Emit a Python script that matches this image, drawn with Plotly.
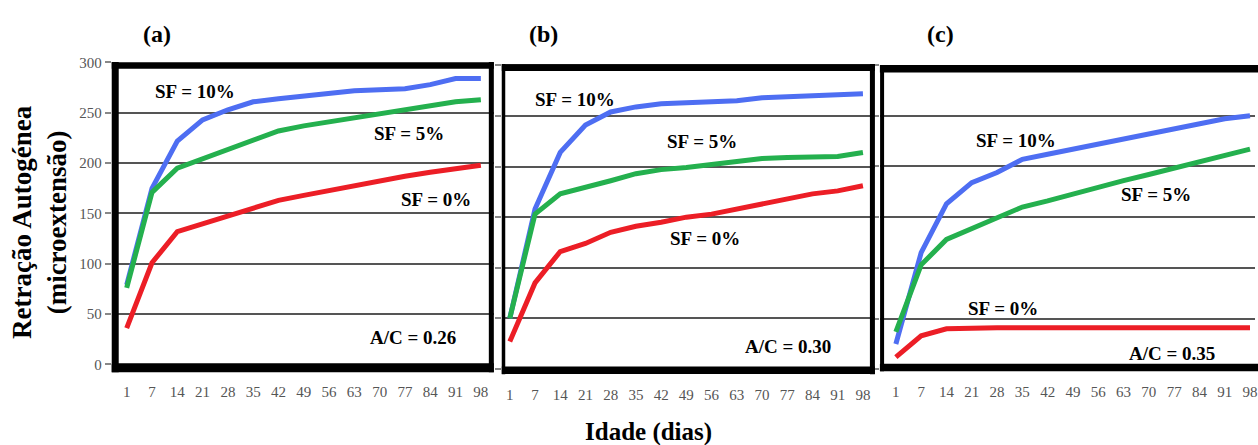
import plotly.graph_objects as go

# ---------------- data ----------------
days = [1, 7, 14, 21, 28, 35, 42, 49, 56, 63, 70, 77, 84, 91, 98]
day_labels = [str(d) for d in days]
y_ticks = [0, 50, 100, 150, 200, 250, 300]

a_sf10 = [79, 175, 222, 243, 253, 261, 264, 267, 269, 272, 273, 274, 278, 284, 284]
a_sf5 = [76, 171, 195, 204, 214, 223, 232, 237, 241, 245, 250, 253, 257, 261, 263]
a_sf0 = [36, 101, 132, 140, 148, 155, 163, 168, 173, 178, 183, 187, 191, 195, 198]

b_sf10 = [50, 158, 214, 241, 254, 259, 262, 263, 264, 265, 268, 269, 270, 272, 272]
b_sf5 = [50, 153, 173, 179, 186, 193, 197, 199, 202, 204, 208, 209, 209, 210, 214]
b_sf0 = [27, 85, 116, 124, 135, 141, 145, 150, 153, 158, 163, 168, 173, 176, 181]

c_sf10 = [25, 115, 163, 184, 194, 207, 212, 217, 223, 228, 233, 238, 243, 247, 250]
c_sf5 = [37, 103, 128, 139, 150, 160, 166, 173, 179, 186, 192, 198, 205, 210, 217]
c_sf0 = [12, 33, 40, 41, 41, 41, 41, 41, 41, 41, 41, 41, 41, 41, 41]

panel_titles = ["(a)", "(b)", "(c)"]
ac_labels = ["A/C = 0.26", "A/C = 0.30", "A/C = 0.35"]
series_names = ["SF = 10%", "SF = 5%", "SF = 0%"]

# ---------------- style / layout ----------------
W, H = 1258, 445
SERIF = "Liberation Serif"
BLUE, GREEN, RED = "rgb(78,110,242)", "rgb(36,176,78)", "rgb(236,30,38)"
GRID = "#555555"


def px(x):
    return x / W


def py(y):
    return 1 - y / H


# pixel calibration for each panel
panels = [
    dict(xi0=127, xi14=482, dl=112, dr=495, yv0=364, yv300=56.5, dt=56, db=371),
    dict(xi0=511, xi14=865, dl=503, dr=877, yv0=368.5, yv300=59.5, dt=58, db=374),
    dict(xi0=898, xi14=1253, dl=882, dr=1258, yv0=369, yv300=59, dt=58, db=371),
]

data_sets = [(a_sf10, a_sf5, a_sf0), (b_sf10, b_sf5, b_sf0), (c_sf10, c_sf5, c_sf0)]

fig = go.Figure()
layout = dict(
    width=W, height=H, autosize=False,
    margin=dict(l=0, r=0, t=0, b=0, pad=0),
    paper_bgcolor="white", plot_bgcolor="white",
    showlegend=False,
    font=dict(family=SERIF, color="black"),
)

for i, (p, ds) in enumerate(zip(panels, data_sets)):
    n = len(days) - 1
    sx = (p["xi14"] - p["xi0"]) / n
    xr = [(p["dl"] - p["xi0"]) / sx, n + (p["dr"] - p["xi14"]) / sx]
    sy = (p["yv0"] - p["yv300"]) / 300
    yr = [-(p["db"] - p["yv0"]) / sy, 300 + (p["yv300"] - p["dt"]) / sy]
    xa = "x" if i == 0 else f"x{i+1}"
    ya = "y" if i == 0 else f"y{i+1}"
    xkey = "xaxis" if i == 0 else f"xaxis{i+1}"
    ykey = "yaxis" if i == 0 else f"yaxis{i+1}"
    for vals, col, name in zip(ds, [BLUE, GREEN, RED], series_names):
        fig.add_trace(go.Scatter(
            x=day_labels, y=vals, mode="lines", xaxis=xa, yaxis=ya, name=name,
            line=dict(color=col, width=5), hoverinfo="skip",
        ))
    layout[xkey] = dict(
        type="category", domain=[px(p["dl"]), px(p["dr"])], range=xr,
        anchor=ya, showgrid=False, zeroline=False, showline=False,
        tickmode="array", tickvals=day_labels, ticktext=day_labels,
        ticks="", ticklabelstandoff=10,
        tickfont=dict(family=SERIF, size=15, color="#555"),
    )
    layout[ykey] = dict(
        domain=[py(p["db"]), py(p["dt"])], range=yr, anchor=xa,
        tickmode="array", tickvals=y_ticks,
        showgrid=True, gridcolor=GRID, gridwidth=1.5, zeroline=False,
        showline=False, ticks="outside", ticklen=6, tickcolor="#888",
        tickwidth=1.5, showticklabels=(i == 0),
        tickfont=dict(family=SERIF, size=15, color="#555"),
    )

fig.update_layout(**layout)

# frames (thick black borders)
frames = [
    # (x0, y0, x1, y1, width) in pixels
    [(112, 59.5, 495, 59.5, 6.5), (112, 367.5, 495, 367.5, 8.5),
     (115.5, 56, 115.5, 372, 7), (492.5, 56, 492.5, 372, 5)],
    [(503, 61.7, 877, 61.7, 6.7), (503, 370, 877, 370, 7.5),
     (504.7, 58, 504.7, 374, 3.5), (874.5, 58, 874.5, 374, 5)],
    [(882, 63, 1262, 63, 7.5), (882, 367, 1262, 367, 7.5),
     (884.2, 59, 884.2, 371, 4)],
]
for fr in frames:
    for x0, y0, x1, y1, w in fr:
        fig.add_shape(type="line", xref="paper", yref="paper",
                      x0=px(x0), y0=py(y0), x1=px(x1), y1=py(y1),
                      line=dict(color="black", width=w), layer="above")

# in-plot labels
label_pos = [
    [(195.5, 86), (410, 129), (437, 196), (414, 337)],
    [(576, 94), (703.5, 137), (707, 236), (790, 346)],
    [(1018, 136), (1159, 191), (1005, 307), (1175, 353)],
]
for i, pos in enumerate(label_pos):
    texts = series_names + [ac_labels[i]]
    for t, (x, y) in zip(texts, pos):
        fig.add_annotation(text=f"<b>{t}</b>", x=px(x), y=py(y), xref="paper", yref="paper",
                           showarrow=False, xanchor="center", yanchor="middle",
                           font=dict(family=SERIF, size=19, color="black"))

# panel letters
for t, x in zip(panel_titles, [157, 545, 943]):
    fig.add_annotation(text=f"<b>{t}</b>", x=px(x), y=py(27), xref="paper", yref="paper",
                       showarrow=False, xanchor="center", yanchor="middle",
                       font=dict(family=SERIF, size=24, color="black"))

# axis titles
fig.add_annotation(text="<b>Retração Autogénea<br>(microextensão)</b>", x=px(39), y=py(219),
                   xref="paper", yref="paper", showarrow=False, textangle=-90,
                   xanchor="center", yanchor="middle",
                   font=dict(family=SERIF, size=27, color="black"))
fig.add_annotation(text="<b>Idade (dias)</b>", x=px(650), y=py(433),
                   xref="paper", yref="paper", showarrow=False,
                   xanchor="center", yanchor="middle",
                   font=dict(family=SERIF, size=25, color="black"))

fig.write_html("out.html")
